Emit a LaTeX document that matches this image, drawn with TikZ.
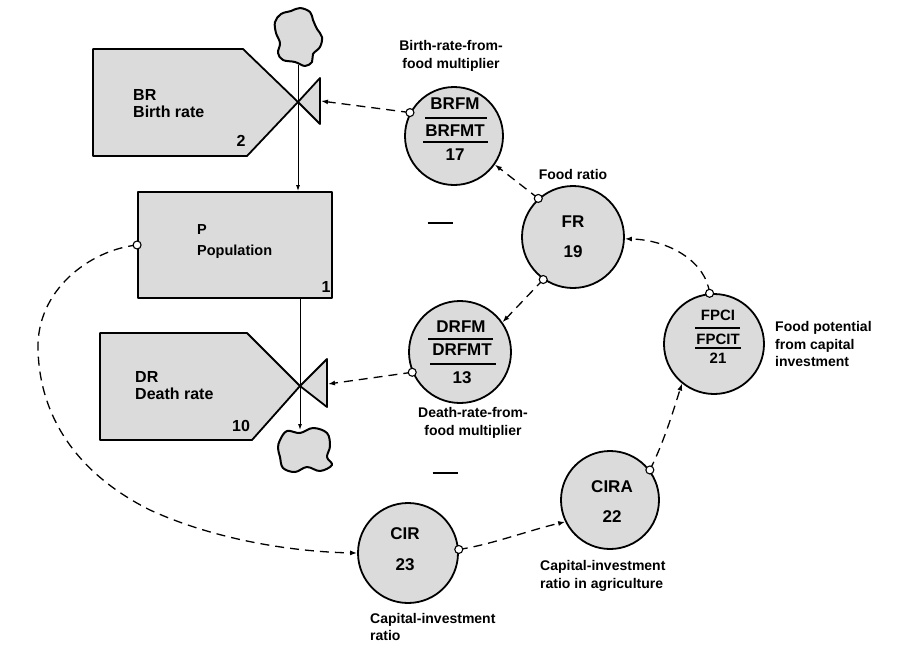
\documentclass[tikz,border=0pt]{standalone}
\usepackage{fontspec}
\setmainfont{Liberation Sans}
\usetikzlibrary{arrows.meta}
\begin{document}
\begin{tikzpicture}[x=1pt,y=-1pt,
  shp/.style={draw=black, line width=1.8pt, fill=gray!28, line join=round},
  aux/.style={circle, draw=black, line width=1.8pt, fill=gray!28, minimum size=#1, inner sep=0pt},
  aux/.default=100pt,
  tiny/.style={circle, draw=black, line width=1.1pt, fill=white, minimum size=8pt, inner sep=0pt},
  info/.style={dash pattern=on 9pt off 6pt, line width=1.3pt, -{Latex[length=7pt,width=5pt]}},
  flow/.style={line width=1pt},
  rulel/.style={line width=1.4pt},
  txt/.style={font=\bfseries\fontsize{14.5}{17}\selectfont, inner sep=0pt},
  rtxt/.style={font=\bfseries\fontsize{16}{19}\selectfont, inner sep=0pt},
  ctxt/.style={font=\bfseries\fontsize{17}{20}\selectfont, inner sep=0pt},
  ftxt/.style={font=\bfseries\fontsize{15}{18}\selectfont, inner sep=0pt},
  lbl/.style={font=\bfseries\fontsize{14}{17.5}\selectfont, inner sep=0pt},
]
\useasboundingbox (0,0) rectangle (899,645);

% ---------- clouds ----------
\draw[shp, line width=2pt] plot[smooth cycle, tension=0.6] coordinates {
 (275,22) (281,14) (291,11) (300,8) (310,12) (313,20) (317,29) (322,37) (320,47)
 (313,54) (312,62) (305,66) (295,62) (283,60) (278,53) (280,43) (276,33)};
\coordinate (cloudTop) at (298,65);
\draw[shp, line width=2pt] plot[smooth cycle, tension=0.6] coordinates {
 (280,440) (287,431) (300,433) (313,428) (327,433) (330,446) (327,457) (332,465)
 (320,471) (307,467) (295,472) (283,468) (280,457) (278,448)};
\coordinate (cloudBot) at (300,430);

% ---------- rates (BR, DR) ----------
\draw[shp] (93,49) -- (243,49) -- (298,102) -- (247,156) -- (93,156) -- cycle;
\draw[shp] (298,102) -- (320,78) -- (320,124) -- cycle;
\coordinate (brv) at (321,101);
\node[rtxt, anchor=west] (brA) at (133,95) {BR};
\node[rtxt, anchor=west] (brB) at (133,112) {Birth rate};
\node[rtxt] (brN) at (241,141) {2};

\draw[shp] (100,333) -- (247,333) -- (300,386) -- (252,440) -- (100,440) -- cycle;
\draw[shp] (300,386) -- (327,359) -- (327,407) -- cycle;
\coordinate (drv) at (328,384);
\node[rtxt, anchor=west] (drA) at (135,377) {DR};
\node[rtxt, anchor=west] (drB) at (135,394) {Death rate};
\node[rtxt] (drN) at (241,426) {10};

% ---------- level P ----------
\node[shp, rectangle, minimum width=194pt, minimum height=106pt, inner sep=0pt] (p) at (235,245) {};
\node[txt, anchor=west] (pA) at (197,230) {P};
\node[txt, anchor=west] (pB) at (197,252) {Population};
\node[rtxt] (pN) at (326,287) {1};

% flows
\draw[flow] (cloudTop) -- (298,102);
\draw[flow, -{Latex[length=6pt,width=4pt]}] (298,102) -- (p.north -| 298,0);
\draw[flow] (p.south -| 300,0) -- (300,386);
\draw[flow, -{Latex[length=6pt,width=4pt]}] (300,386) -- (cloudBot);

% ---------- auxiliaries ----------
\node[aux=98pt] (brfm) at (454,136) {};
\node[ctxt] (brfmA) at (455,104) {BRFM};
\draw[rulel] (425,118) -- (487,118);
\node[ctxt] (brfmB) at (455,131) {BRFMT};
\draw[rulel] (423,142) -- (488,142);
\node[ctxt] (brfmC) at (455,155) {17};

\node[aux=102pt] (fr) at (573,237) {};
\node[ctxt] (frA) at (573,222) {FR};
\node[ctxt] (frB) at (573,252) {19};

\node[aux=102pt] (drfm) at (460,352) {};
\node[ctxt] (drfmA) at (461,327) {DRFM};
\draw[rulel] (428,339) -- (493,339);
\node[ctxt] (drfmB) at (462,350) {DRFMT};
\draw[rulel] (430,364) -- (496,364);
\node[ctxt] (drfmC) at (462,378) {13};

\node[aux=100pt] (fpci) at (714,344) {};
\node[ftxt] (fpciA) at (718,315) {FPCI};
\draw[rulel] (695,328) -- (740,328);
\node[ftxt] (fpciB) at (718,339) {FPCIT};
\draw[rulel] (695,348) -- (741,348);
\node[ftxt] (fpciC) at (718,358) {21};

\node[aux=100pt] (cir) at (408,553) {};
\node[ctxt] (cirA) at (405,534) {CIR};
\node[ctxt] (cirB) at (405,565) {23};

\node[aux=98pt] (cira) at (610,500) {};
\node[ctxt] (ciraA) at (612,487) {CIRA};
\node[ctxt] (ciraB) at (612,517) {22};

% ---------- labels ----------
\node[lbl, align=center] (lBR) at (451,56) {Birth-rate-from-\\food multiplier};
\node[lbl] (lFR) at (573,174) {Food ratio};
\node[lbl, align=center] (lDR) at (473,423) {Death-rate-from-\\food multiplier};
\node[lbl, align=left, anchor=west] (lFP) at (775,344) {Food potential\\from capital\\investment};
\node[lbl, align=left, anchor=west] (lCIRA) at (540,576) {Capital-investment\\ratio in agriculture};
\node[lbl, align=left, anchor=west] (lCIR) at (370,627) {Capital-investment\\ratio};

% polarity marks
\node[inner sep=0pt] (m1) at (440,223) {\rule{25pt}{2pt}};
\node[inner sep=0pt] (m2) at (445,473) {\rule{25pt}{2pt}};

% ---------- information links ----------
\draw[info] (brfm.152) -- (brv);
\draw[info] (fr.132) -- (brfm.-35);
\draw[info] (fr.235) -- (drfm.35);
\draw[info] (drfm.203) -- (drv);
\draw[info] (p.west) .. controls (90,250) and (36,290) .. (38,350)
   .. controls (40,420) and (80,475) .. (150,510)
   .. controls (220,542) and (300,552) .. (cir.west);
\draw[info] (cir.4) .. controls (490,545) and (530,530) .. (cira.206);
\draw[info] (cira.37) .. controls (665,440) and (675,405) .. (fpci.231);
\draw[info] (fpci.95) .. controls (706,262) and (670,240) .. (fr.-2);

% small pick-off circles
\node[tiny] (t1) at (brfm.152) {};
\node[tiny] (t2) at (fr.132) {};
\node[tiny] (t3) at (fr.235) {};
\node[tiny] (t4) at (drfm.203) {};
\node[tiny] (t5) at (p.west) {};
\node[tiny] (t6) at (cir.4) {};
\node[tiny] (t7) at (cira.37) {};
\node[tiny] (t8) at (fpci.95) {};
\end{tikzpicture}
\end{document}
